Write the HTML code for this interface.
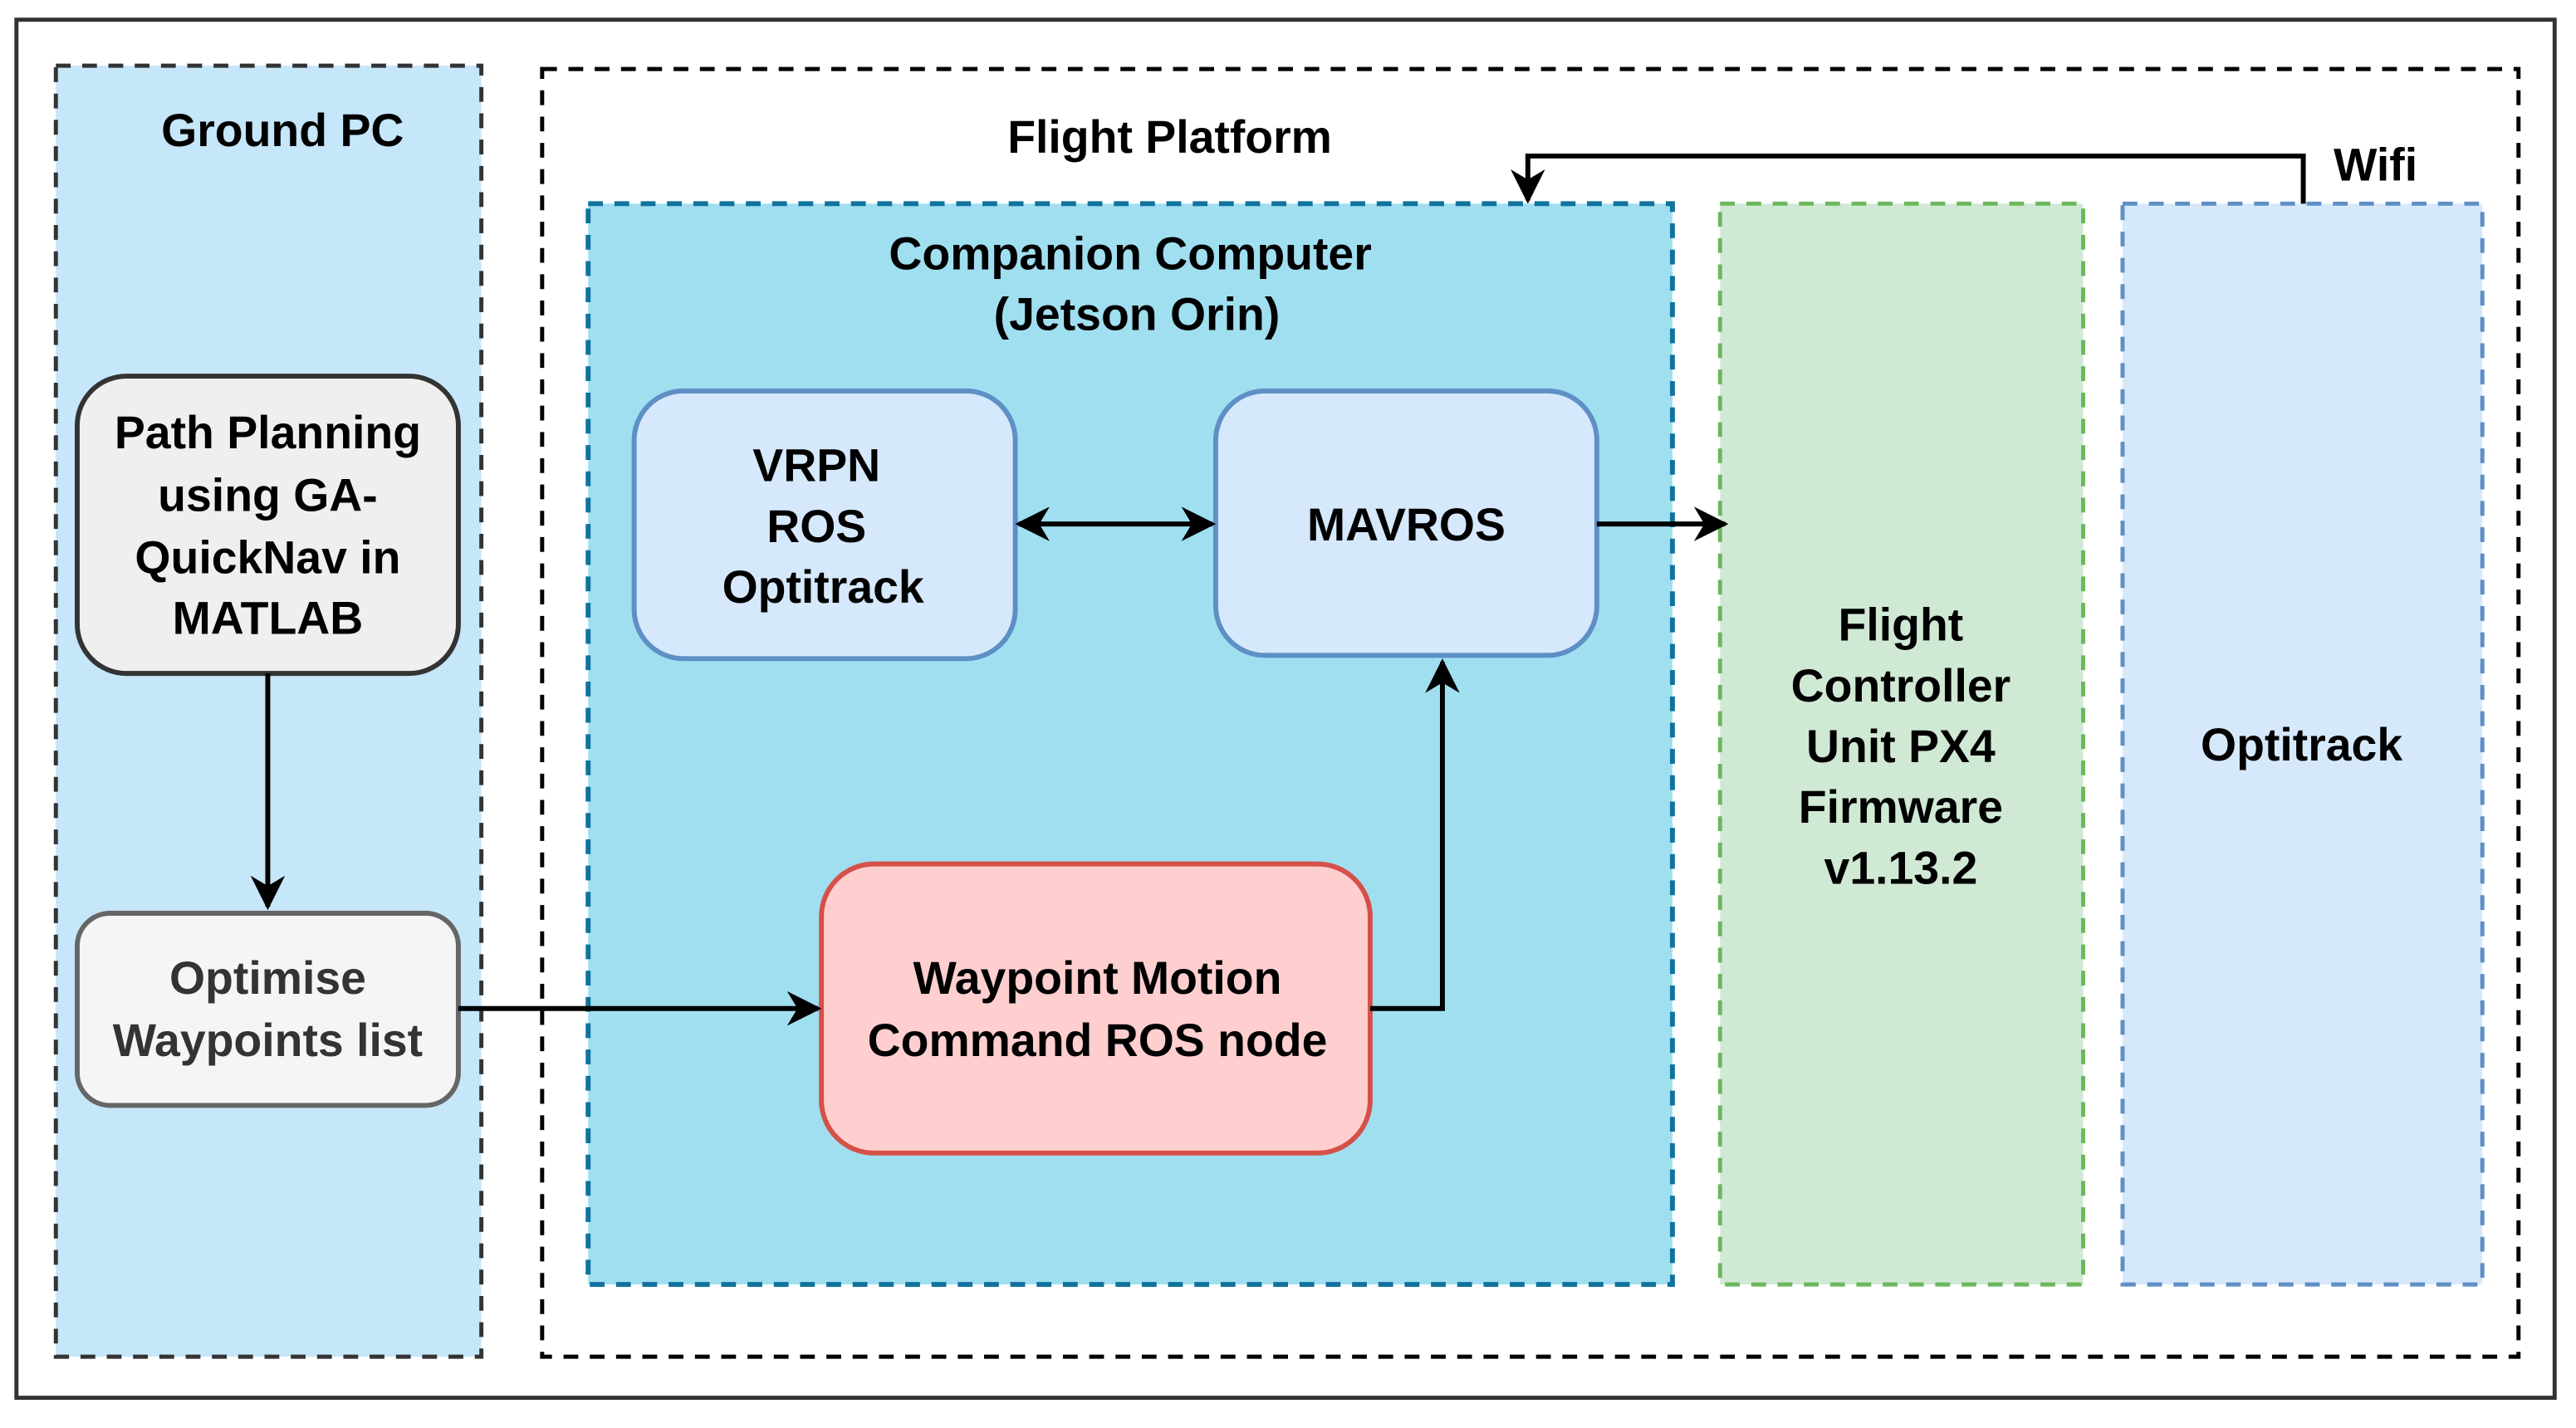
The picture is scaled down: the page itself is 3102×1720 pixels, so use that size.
<!DOCTYPE html>
<html><head><meta charset="utf-8"><style>
html,body{margin:0;padding:0;background:#fff;}
svg{display:block;}
text{font-family:"Liberation Sans",Arial,sans-serif;font-weight:bold;fill:#000;text-anchor:middle;}
</style></head><body>
<svg width="3102" height="1720" viewBox="0 0 1568 869.4" preserveAspectRatio="none" xmlns="http://www.w3.org/2000/svg">
<defs>
<marker id="ah" viewBox="0 0 10 10" refX="9" refY="5" markerWidth="7" markerHeight="7" orient="auto-start-reverse" markerUnits="strokeWidth">
<path d="M0,0 L10,5 L0,10 L3,5 z" fill="#000"/>
</marker>
</defs>
<rect x="0" y="0" width="1568" height="870" fill="#fff"/>
<rect x="10" y="12" width="1545" height="839" fill="#fff" stroke="#333" stroke-width="2.5"/>
<rect x="34" y="40" width="259" height="786" fill="#c6e6fa" stroke="#333" stroke-width="2.5" stroke-dasharray="9,7"/>
<text x="172" y="89" font-size="28">Ground PC</text>
<rect x="330" y="42" width="1203" height="784" fill="#fff" stroke="#000" stroke-width="2.5" stroke-dasharray="9,7"/>
<text x="712" y="93" font-size="28">Flight Platform</text>
<rect x="358" y="124" width="660" height="658" fill="#a0dff0" stroke="#10739e" stroke-width="3" stroke-dasharray="9,7"/>
<text x="688" y="164" font-size="28">Companion Computer</text>
<text x="692" y="201" font-size="28">(Jetson Orin)</text>
<rect x="1047" y="124" width="221" height="658" fill="#d0e9d4" stroke="#6bb85d" stroke-width="2.5" stroke-dasharray="9,7"/>
<text x="1157" y="390" font-size="28">Flight</text>
<text x="1157" y="427" font-size="28">Controller</text>
<text x="1157" y="464" font-size="28">Unit PX4</text>
<text x="1157" y="501" font-size="28">Firmware</text>
<text x="1157" y="538" font-size="28">v1.13.2</text>
<rect x="1292" y="124" width="219" height="658" fill="#d6e9fb" stroke="#5e8fc5" stroke-width="2.5" stroke-dasharray="9,7"/>
<text x="1401" y="463" font-size="28">Optitrack</text>
<path d="M1402,124 L1402,95 L930,95 L930,122" fill="none" stroke="#000" stroke-width="3" marker-end="url(#ah)"/>
<text x="1446" y="110" font-size="28">Wifi</text>
<rect x="47" y="229" width="232" height="181" rx="30" fill="#efefef" stroke="#333" stroke-width="3"/>
<text x="163" y="273" font-size="28">Path Planning</text>
<text x="163" y="311" font-size="28">using GA-</text>
<text x="163" y="349" font-size="28">QuickNav in</text>
<text x="163" y="386" font-size="28">MATLAB</text>
<rect x="47" y="556" width="232" height="117" rx="20" fill="#f5f5f5" stroke="#666" stroke-width="3"/>
<text x="163" y="605" font-size="28" style="fill:#333">Optimise</text>
<text x="163" y="643" font-size="28" style="fill:#333">Waypoints list</text>
<rect x="386" y="238" width="232" height="163" rx="30" fill="#d6e8fb" stroke="#5e8fc5" stroke-width="3"/>
<text x="497" y="293" font-size="28">VRPN</text>
<text x="497" y="330" font-size="28">ROS</text>
<text x="501" y="367" font-size="28">Optitrack</text>
<rect x="740" y="238" width="232" height="161" rx="30" fill="#d6e8fb" stroke="#5e8fc5" stroke-width="3"/>
<text x="856" y="329" font-size="28">MAVROS</text>
<rect x="500" y="526" width="334" height="176" rx="32" fill="#ffcfcf" stroke="#d6504a" stroke-width="3"/>
<text x="668" y="605" font-size="28">Waypoint Motion</text>
<text x="668" y="643" font-size="28">Command ROS node</text>
<line x1="163" y1="410" x2="163" y2="552" stroke="#000" stroke-width="3" marker-end="url(#ah)"/>
<line x1="279" y1="614" x2="498" y2="614" stroke="#000" stroke-width="3" marker-end="url(#ah)"/>
<path d="M834,614 L878,614 L878,403" fill="none" stroke="#000" stroke-width="3" marker-end="url(#ah)"/>
<line x1="620" y1="319" x2="738" y2="319" stroke="#000" stroke-width="3" marker-start="url(#ah)" marker-end="url(#ah)"/>
<line x1="972" y1="319" x2="1050" y2="319" stroke="#000" stroke-width="3" marker-end="url(#ah)"/>
</svg>
</body></html>
